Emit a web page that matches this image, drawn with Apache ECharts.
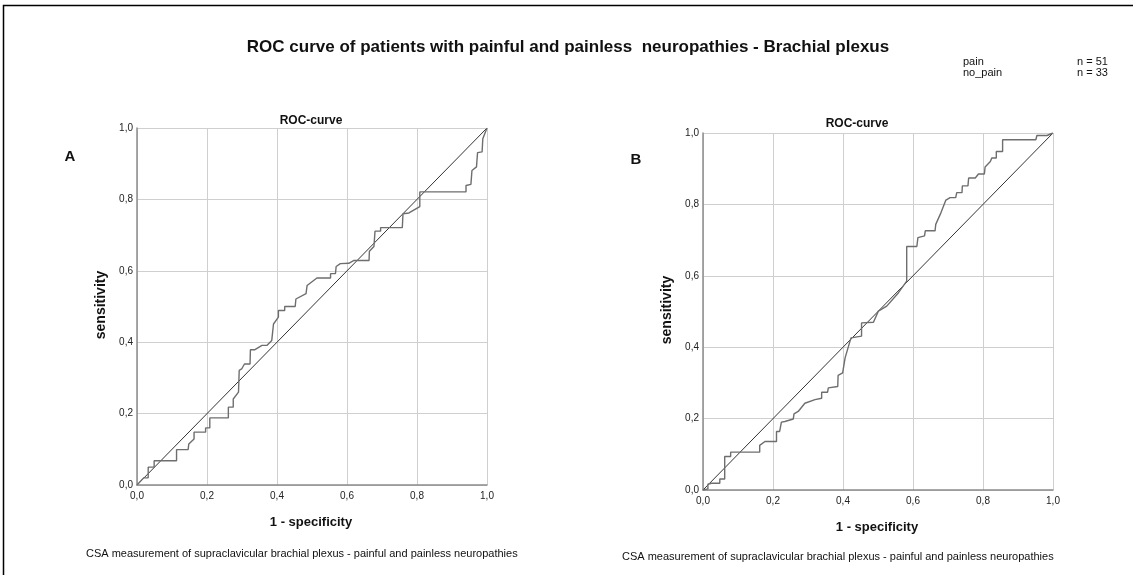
<!DOCTYPE html>
<html>
<head>
<meta charset="utf-8">
<script src="https://cdn.jsdelivr.net/npm/echarts@6/dist/echarts.min.js"></script>
<style>
html,body{margin:0;padding:0;background:#fff;}
#chart{width:1133px;height:575px;}
</style>
</head>
<body>
<div id="chart"></div>
<script>
// ---- data ----
const tickValues = [0, 0.2, 0.4, 0.6, 0.8, 1.0];
const tickLabels = ['0,0', '0,2', '0,4', '0,6', '0,8', '1,0'];

const rocA_fpr = [0, 0.019, 0.032, 0.032, 0.049, 0.049, 0.113, 0.113, 0.146, 0.148, 0.163, 0.163, 0.196, 0.196, 0.208, 0.208, 0.261, 0.261, 0.275, 0.275, 0.290, 0.292, 0.299, 0.307, 0.323, 0.324, 0.337, 0.357, 0.371, 0.385, 0.390, 0.404, 0.404, 0.422, 0.422, 0.452, 0.454, 0.483, 0.486, 0.514, 0.553, 0.553, 0.567, 0.569, 0.581, 0.605, 0.620, 0.663, 0.664, 0.677, 0.680, 0.696, 0.696, 0.758, 0.760, 0.777, 0.808, 0.808, 0.940, 0.940, 0.954, 0.957, 0.970, 0.973, 0.986, 0.988, 1.0];
const rocA_tpr = [0, 0.020, 0.020, 0.050, 0.050, 0.068, 0.068, 0.099, 0.099, 0.115, 0.129, 0.148, 0.148, 0.160, 0.160, 0.188, 0.188, 0.218, 0.218, 0.241, 0.260, 0.321, 0.325, 0.339, 0.339, 0.379, 0.379, 0.391, 0.391, 0.405, 0.451, 0.470, 0.489, 0.489, 0.500, 0.500, 0.521, 0.536, 0.559, 0.580, 0.580, 0.592, 0.592, 0.612, 0.620, 0.621, 0.629, 0.629, 0.655, 0.668, 0.711, 0.711, 0.721, 0.721, 0.760, 0.762, 0.780, 0.821, 0.821, 0.839, 0.842, 0.881, 0.891, 0.931, 0.933, 0.970, 1.0];

const rocB_fpr = [0, 0.014, 0.014, 0.024, 0.048, 0.048, 0.062, 0.062, 0.079, 0.079, 0.162, 0.162, 0.177, 0.210, 0.210, 0.219, 0.224, 0.234, 0.258, 0.260, 0.272, 0.291, 0.320, 0.339, 0.339, 0.356, 0.358, 0.385, 0.386, 0.399, 0.406, 0.420, 0.423, 0.453, 0.453, 0.487, 0.501, 0.525, 0.558, 0.582, 0.582, 0.611, 0.614, 0.633, 0.635, 0.663, 0.665, 0.680, 0.694, 0.706, 0.722, 0.725, 0.740, 0.741, 0.757, 0.759, 0.778, 0.787, 0.804, 0.806, 0.821, 0.825, 0.838, 0.838, 0.856, 0.856, 0.951, 0.954, 0.983, 1.0];
const rocB_tpr = [0, 0.003, 0.016, 0.019, 0.019, 0.031, 0.031, 0.094, 0.094, 0.106, 0.106, 0.125, 0.136, 0.136, 0.164, 0.164, 0.190, 0.192, 0.199, 0.213, 0.220, 0.243, 0.253, 0.257, 0.274, 0.274, 0.286, 0.290, 0.321, 0.328, 0.370, 0.417, 0.426, 0.431, 0.468, 0.470, 0.501, 0.515, 0.552, 0.585, 0.682, 0.682, 0.707, 0.712, 0.726, 0.726, 0.744, 0.777, 0.812, 0.819, 0.819, 0.833, 0.833, 0.852, 0.852, 0.874, 0.874, 0.885, 0.885, 0.905, 0.920, 0.930, 0.930, 0.948, 0.948, 0.981, 0.981, 0.993, 0.993, 1.0];

const refLine = [[0, 0], [1, 1]];

const chartTitle = 'ROC curve of patients with painful and painless  neuropathies - Brachial plexus';
const panelTitle = 'ROC-curve';
const xName = '1 - specificity';
const yName = 'sensitivity';
const caption = 'CSA measurement of supraclavicular brachial plexus - painful and painless neuropathies';
const groups = ['pain', 'no_pain'];
const groupN = ['n = 51', 'n = 33'];

// ---- chart ----
const FONT = '"Liberation Sans", Arial, sans-serif';
const zip = (a, b) => a.map((v, i) => [v, b[i]]);
const fmt = v => {
  const i = tickValues.findIndex(t => Math.abs(t - v) < 1e-6);
  return i >= 0 ? tickLabels[i] : '';
};

function xAxis(gi) {
  return {
    type: 'value', gridIndex: gi, min: 0, max: 1, interval: 0.2,
    axisLine: { show: true, onZero: false, lineStyle: { color: '#8c8c8c', width: 1.5 } },
    axisTick: { show: false },
    axisLabel: { formatter: fmt, color: '#222', fontSize: 10, fontFamily: FONT, margin: 6 },
    splitLine: { show: true, lineStyle: { color: '#cfcfcf', width: 1 } }
  };
}
function yAxis(gi) {
  return {
    type: 'value', gridIndex: gi, min: 0, max: 1, interval: 0.2,
    axisLine: { show: true, onZero: false, lineStyle: { color: '#8c8c8c', width: 1.5 } },
    axisTick: { show: false },
    axisLabel: { formatter: fmt, color: '#222', fontSize: 10, fontFamily: FONT, margin: 4 },
    splitLine: { show: true, lineStyle: { color: '#cfcfcf', width: 1 } }
  };
}

const txt = (text, x, y, size, bold, align, rot) => ({
  type: 'text', x: x, y: y, rotation: rot || 0,
  style: {
    text: text, fill: '#111', fontSize: size, fontWeight: bold ? 'bold' : 'normal',
    fontFamily: FONT, textAlign: align || 'left', textVerticalAlign: 'middle'
  }
});

const chart = echarts.init(document.getElementById('chart'), null, { renderer: 'canvas' });
chart.setOption({
  backgroundColor: '#fff',
  animation: false,
  grid: [
    { left: 137, top: 128, width: 350, height: 357 },
    { left: 703, top: 133, width: 350, height: 357 }
  ],
  xAxis: [xAxis(0), xAxis(1)],
  yAxis: [yAxis(0), yAxis(1)],
  series: [
    { type: 'line', xAxisIndex: 0, yAxisIndex: 0, data: refLine, showSymbol: false, lineStyle: { color: '#333', width: 1 }, z: 3 },
    { type: 'line', xAxisIndex: 0, yAxisIndex: 0, data: zip(rocA_fpr, rocA_tpr), showSymbol: false, lineStyle: { color: '#6e6e6e', width: 1.4 }, z: 4 },
    { type: 'line', xAxisIndex: 1, yAxisIndex: 1, data: refLine, showSymbol: false, lineStyle: { color: '#333', width: 1 }, z: 3 },
    { type: 'line', xAxisIndex: 1, yAxisIndex: 1, data: zip(rocB_fpr, rocB_tpr), showSymbol: false, lineStyle: { color: '#6e6e6e', width: 1.4 }, z: 4 }
  ],
  graphic: [
    { type: 'polyline', shape: { points: [[3.5, 575], [3.5, 5.5], [1133, 5.5]] }, style: { stroke: '#000', lineWidth: 1.5, fill: null } },
    txt(chartTitle, 568, 47, 17, true, 'center'),
    txt(groups[0], 963, 62, 11, false, 'left'),
    txt(groupN[0], 1077, 62, 11, false, 'left'),
    txt(groups[1], 963, 73, 11, false, 'left'),
    txt(groupN[1], 1077, 73, 11, false, 'left'),
    // panel A
    txt(panelTitle, 311, 121, 12, true, 'center'),
    txt('A', 70, 157, 15, true, 'center'),
    txt(yName, 101, 305, 14, true, 'center', Math.PI / 2),
    txt(xName, 311, 522, 13, true, 'center'),
    txt(caption, 86, 554, 11, false, 'left'),
    // panel B
    txt(panelTitle, 857, 124, 12, true, 'center'),
    txt('B', 636, 160, 15, true, 'center'),
    txt(yName, 667, 310, 14, true, 'center', Math.PI / 2),
    txt(xName, 877, 527, 13, true, 'center'),
    txt(caption, 622, 557, 11, false, 'left')
  ]
});
</script>
</body>
</html>
